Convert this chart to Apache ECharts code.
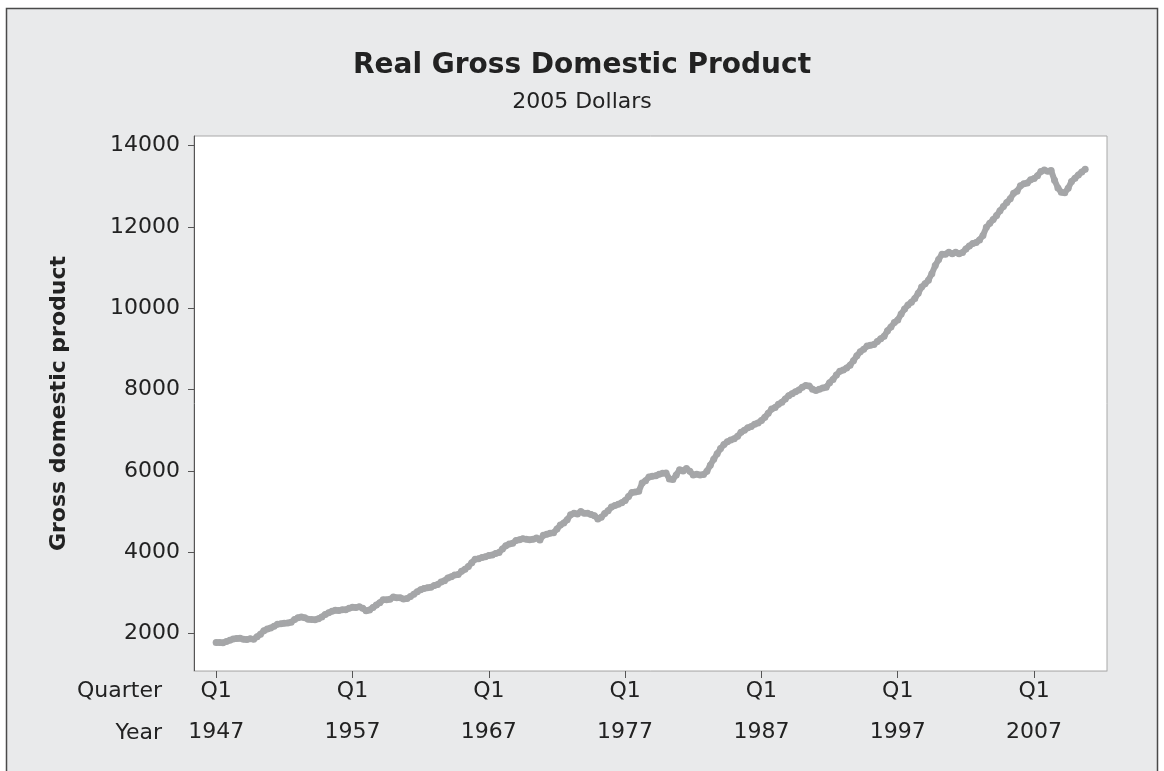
<!DOCTYPE html>
<html>
<head>
<meta charset="utf-8">
<script src="https://cdn.jsdelivr.net/npm/echarts@6/dist/echarts.min.js"></script>
<style>
  html, body { margin: 0; padding: 0; background: #ffffff; }
  #chart { width: 1164px; height: 771px; }
</style>
</head>
<body>
<div id="chart"></div>
<script>
// quarterly real GDP, billions of 2005 dollars (1947 Q1 .. 2010 Q4)
const firstYear = 1947;
const gdp = [
  1780, 1778, 1776, 1805,   // 1947
  1835, 1868, 1878, 1885,   // 1948
  1862, 1855, 1872, 1858,   // 1949
  1920, 1985, 2070, 2110,   // 1950
  2140, 2180, 2230, 2240,   // 1951
  2255, 2260, 2280, 2345,   // 1952
  2390, 2405, 2390, 2355,   // 1953
  2345, 2342, 2365, 2410,   // 1954
  2470, 2510, 2550, 2575,   // 1955
  2565, 2585, 2585, 2620,   // 1956
  2645, 2642, 2660, 2625,   // 1957
  2560, 2580, 2640, 2700,   // 1958
  2760, 2830, 2830, 2845,   // 1959
  2900, 2880, 2880, 2850,   // 1960
  2860, 2910, 2970, 3030,   // 1961
  3080, 3110, 3130, 3140,   // 1962
  3180, 3210, 3270, 3300,   // 1963
  3370, 3400, 3440, 3450,   // 1964
  3530, 3580, 3650, 3740,   // 1965
  3830, 3840, 3870, 3890,   // 1966
  3920, 3930, 3970, 3995,   // 1967
  4080, 4160, 4200, 4220,   // 1968
  4290, 4310, 4335, 4320,   // 1969
  4310, 4320, 4350, 4300,   // 1970
  4420, 4440, 4470, 4480,   // 1971
  4570, 4670, 4720, 4800,   // 1972
  4920, 4960, 4940, 5000,   // 1973
  4960, 4960, 4930, 4900,   // 1974
  4820, 4860, 4950, 5020,   // 1975
  5110, 5150, 5180, 5220,   // 1976
  5270, 5370, 5470, 5480,   // 1977
  5500, 5700, 5760, 5850,   // 1978
  5870, 5880, 5920, 5940,   // 1979
  5950, 5800, 5790, 5900,   // 1980
  6030, 6000, 6060, 5990,   // 1981
  5900, 5920, 5900, 5910,   // 1982
  5990, 6140, 6290, 6420,   // 1983
  6550, 6650, 6720, 6760,   // 1984
  6790, 6850, 6950, 7000,   // 1985
  7060, 7090, 7150, 7180,   // 1986
  7240, 7320, 7420, 7520,   // 1987
  7560, 7640, 7690, 7770,   // 1988
  7850, 7900, 7950, 7990,   // 1989
  8060, 8100, 8090, 8010,   // 1990
  7980, 8010, 8040, 8060,   // 1991
  8170, 8250, 8360, 8450,   // 1992
  8480, 8530, 8600, 8710,   // 1993
  8830, 8930, 8990, 9070,   // 1994
  9090, 9110, 9180, 9250,   // 1995
  9310, 9450, 9540, 9650,   // 1996
  9710, 9860, 9980, 10080,  // 1997
  10150, 10240, 10370, 10520, // 1998
  10600, 10690, 10850, 11050, // 1999
  11200, 11330, 11330, 11380, // 2000
  11340, 11380, 11340, 11370, // 2001
  11460, 11530, 11590, 11620, // 2002
  11680, 11790, 11990, 12090, // 2003
  12180, 12280, 12400, 12500, // 2004
  12600, 12690, 12830, 12880, // 2005
  13010, 13060, 13080, 13160, // 2006
  13190, 13260, 13360, 13400, // 2007
  13370, 13390, 13150, 12960, // 2008
  12850, 12840, 12950, 13120, // 2009
  13200, 13280, 13350, 13420  // 2010
];
const tickYears = [1947, 1957, 1967, 1977, 1987, 1997, 2007];
const yTicks = [2000, 4000, 6000, 8000, 10000, 12000, 14000];

const points = gdp.map((v, i) => [i, v]);
const tickIdx = tickYears.map(y => (y - firstYear) * 4);

const chart = echarts.init(document.getElementById('chart'));
const font = 'DejaVu Sans';

chart.setOption({
  animation: false,
  textStyle: { fontFamily: font },
  title: {
    text: 'Real Gross Domestic Product',
    subtext: '2005 Dollars',
    left: 'center',
    top: 47,
    itemGap: 11,
    textStyle: { fontFamily: font, fontSize: 28, fontWeight: 'bold', color: '#222' },
    subtextStyle: { fontFamily: font, fontSize: 22, color: '#222' }
  },
  graphic: [
    {
      type: 'rect', z: -10, silent: true,
      shape: { x: 6.5, y: 8.5, width: 1151, height: 775 },
      style: { fill: '#e9eaeb', stroke: '#4a4a4a', lineWidth: 1.5 }
    },
    {
      type: 'text', x: 162, y: 691,
      style: { text: 'Quarter', font: '22px ' + font, fill: '#222', align: 'right', verticalAlign: 'middle' }
    },
    {
      type: 'text', x: 162, y: 733,
      style: { text: 'Year', font: '22px ' + font, fill: '#222', align: 'right', verticalAlign: 'middle' }
    }
  ],
  grid: {
    left: 194, top: 136, right: 57, bottom: 100,
    show: true, backgroundColor: '#ffffff', borderColor: '#a8a8a8', borderWidth: 1
  },
  xAxis: {
    type: 'value',
    min: -6.5,
    max: 261.4,
    splitLine: { show: false },
    axisLine: { show: true, onZero: false, lineStyle: { color: '#c4c4c4' } },
    axisTick: { show: true, length: 7, customValues: tickIdx, lineStyle: { color: '#555' } },
    axisLabel: {
      customValues: tickIdx,
      margin: 0,
      fontSize: 22,
      lineHeight: 41,
      color: '#222',
      formatter: v => 'Q1\n' + (firstYear + Math.round(v / 4))
    }
  },
  yAxis: {
    type: 'value',
    min: 1080,
    max: 14236,
    name: 'Gross domestic product',
    nameLocation: 'middle',
    nameGap: 124,
    nameTextStyle: { fontFamily: font, fontSize: 22, fontWeight: 'bold', color: '#222' },
    splitLine: { show: false },
    axisLine: { show: true, onZero: false, lineStyle: { color: '#555' } },
    axisTick: { show: true, length: 6, customValues: yTicks, lineStyle: { color: '#555' } },
    axisLabel: { customValues: yTicks, margin: 14, fontSize: 22, color: '#222', formatter: v => String(v) }
  },
  series: [{
    type: 'line',
    data: points,
    symbol: 'circle',
    symbolSize: 7,
    showSymbol: true,
    itemStyle: { color: '#a5a6a8' },
    lineStyle: { color: '#a5a6a8', width: 6 }
  }]
});
</script>
</body>
</html>
